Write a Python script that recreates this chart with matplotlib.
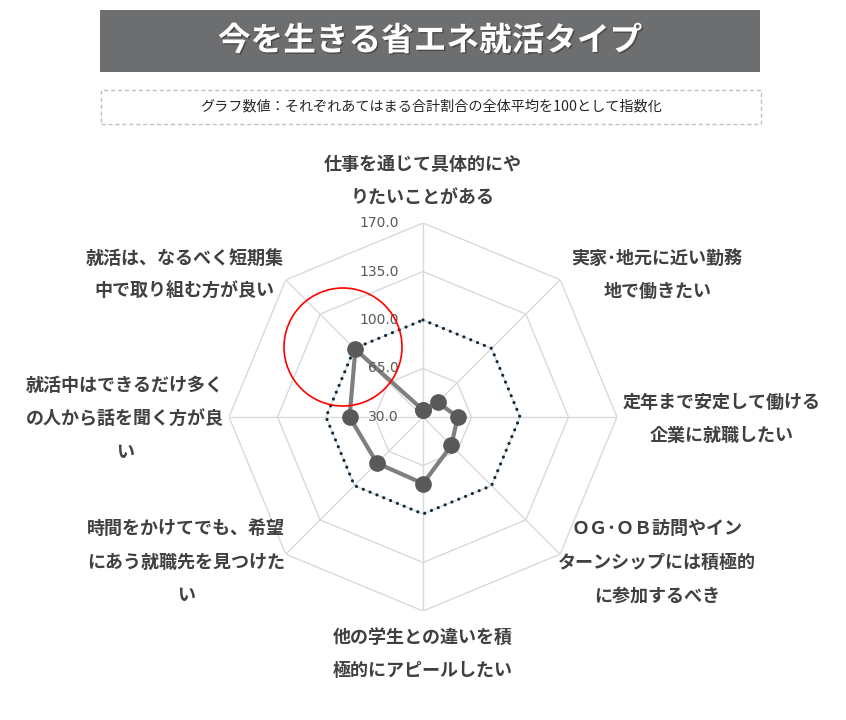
import numpy as np
import matplotlib
matplotlib.use("Agg")
import matplotlib.pyplot as plt
from matplotlib.patches import Rectangle, Ellipse
import matplotlib.patheffects as pe

plt.rcParams['font.family'] = ['Noto Sans CJK JP', 'DejaVu Sans']

# データ（時計回り、上から）
categories = [
    "仕事を通じて具体的にや\nりたいことがある",
    "実家･地元に近い勤務\n地で働きたい",
    "定年まで安定して働ける\n企業に就職したい",
    "ＯＧ･ＯＢ訪問やイン\nターンシップには積極的\nに参加するべき",
    "他の学生との違いを積\n極的にアピールしたい",
    "時間をかけてでも、希望\nにあう就職先を見つけた\nい",
    "就活中はできるだけ多く\nの人から話を聞く方が良\nい",
    "就活は、なるべく短期集\n中で取り組む方が良い",
]
values = [35, 45, 55, 59, 78, 77, 83, 99]
average = [100, 100, 100, 100, 100, 100, 100, 100]
ring_values = [30, 65, 100, 135, 170]
ring_labels = ["30.0", "65.0", "100.0", "135.0", "170.0"]

title = "今を生きる省エネ就活タイプ"
subtitle = "グラフ数値：それぞれあてはまる合計割合の全体平均を100として指数化"

# ラベル位置（頂点からのずれ, px）
label_offsets = [(0, 42), (97, 5), (105, -2), (97, -8),
                 (0, -43), (-100, -8), (-104, -2), (-101, 5)]

W, H = 846, 720
fig = plt.figure(figsize=(W / 100, H / 100), dpi=100)

# タイトル帯
fig.patches.append(Rectangle((100 / W, 1 - 72 / H), 660 / W, 62 / H,
                             transform=fig.transFigure, facecolor='#6d6e70',
                             edgecolor='none'))
fig.text(430 / W, 1 - 41 / H, title, ha='center', va='center', color='white',
         fontsize=23.5, fontweight='bold',
         path_effects=[pe.withSimplePatchShadow(offset=(1, -1), shadow_rgbFace='#333333', alpha=0.6)])

# 注記ボックス
fig.patches.append(Rectangle((101 / W, 1 - 124 / H), 660 / W, 34 / H,
                             transform=fig.transFigure, facecolor='white',
                             edgecolor='#bfbfbf', linestyle=(0, (3, 2)), lw=1))
fig.text(431 / W, 1 - 107 / H, subtitle, ha='center', va='center',
         color='#262626', fontsize=10.2)

# レーダー
cx, cy, R = 423, 417, 194
ax = fig.add_axes([(cx - R) / W, 1 - (cy + R) / H, 2 * R / W, 2 * R / H],
                  projection='polar')
ax.set_theta_zero_location('N')
ax.set_theta_direction(-1)
ax.set_ylim(ring_values[0], ring_values[-1])
ax.grid(False)
ax.set_xticks([])
ax.set_yticks([])
ax.spines['polar'].set_visible(False)
ax.patch.set_alpha(0)

n = len(categories)
theta = np.arange(n) * 2 * np.pi / n
theta_c = np.append(theta, theta[0])

for r in ring_values[1:]:
    ax.plot(theta_c, [r] * (n + 1), color='#d9d9d9', lw=1, zorder=1)
for t in theta:
    ax.plot([t, t], [ring_values[0], ring_values[-1]], color='#d9d9d9', lw=1, zorder=1)

ax.plot(theta_c, average + average[:1], color='#0b2a3c', lw=2.3,
        linestyle=(0, (0.01, 2.3)), dash_capstyle='round', zorder=2)
ax.plot(theta_c, values + values[:1], color='#7f7f7f', lw=3, zorder=3,
        marker='o', markersize=11, markerfacecolor='#595959',
        markeredgecolor='#595959')

for r, lab in zip(ring_values, ring_labels):
    ax.annotate(lab, xy=(0, r), xytext=(-24, 0), textcoords='offset pixels',
                ha='right', va='center', fontsize=10, color='#595959',
                family='DejaVu Sans', annotation_clip=False, zorder=4)

for t, lab, off in zip(theta, categories, label_offsets):
    ax.annotate(lab, xy=(t, ring_values[-1]), xytext=off,
                textcoords='offset pixels', ha='center', va='center',
                multialignment='center', fontsize=13, fontweight='bold',
                color='#404040', linespacing=1.97, annotation_clip=False)

# 強調の赤丸
fig.patches.append(Ellipse((343 / W, 1 - 347 / H), 118 / W, 118 / H,
                           transform=fig.transFigure, facecolor='none',
                           edgecolor='#ff0000', lw=1.2, zorder=10))

fig.savefig('out.png', dpi=100)
